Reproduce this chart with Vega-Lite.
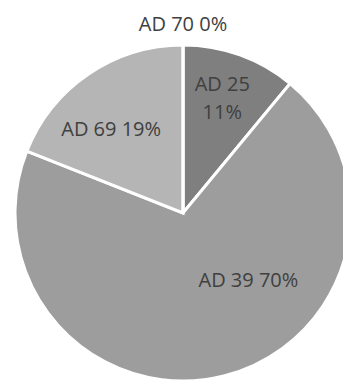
{
  "$schema": "https://vega.github.io/schema/vega-lite/v6.json",
  "width": 320,
  "height": 340,
  "autosize": "none",
  "padding": {"left": 23, "top": 43, "right": 0, "bottom": 0},
  "background": "white",
  "data": {
    "values": [
      {"name": "AD 25", "value": 11, "pct": "11%", "order": 1},
      {"name": "AD 39", "value": 70, "pct": "70%", "order": 2},
      {"name": "AD 69", "value": 19, "pct": "19%", "order": 3},
      {"name": "AD 70", "value": 0, "pct": "0%", "order": 4}
    ]
  },
  "transform": [
    {"stack": "value", "groupby": [], "sort": [{"field": "order"}], "as": ["v0", "v1"]},
    {"calculate": "(datum.v0 + datum.v1) / 2", "as": "mid"},
    {"calculate": "datum.name + ' ' + datum.pct", "as": "lbl"},
    {"calculate": "datum.name + '\\n' + datum.pct", "as": "lbl2"}
  ],
  "layer": [
    {
      "mark": {"type": "arc", "outerRadius": 168, "stroke": "white", "strokeWidth": 3},
      "encoding": {
        "theta": {"field": "v0", "type": "quantitative", "scale": {"domain": [0, 100]}},
        "theta2": {"field": "v1"},
        "color": {
          "field": "name",
          "type": "nominal",
          "scale": {"domain": ["AD 25", "AD 39", "AD 69", "AD 70"], "range": ["#7f7f7f", "#9d9d9d", "#b5b5b5", "#d0d0d0"]},
          "legend": null
        }
      }
    },
    {
      "transform": [{"filter": "datum.name == 'AD 25'"}],
      "mark": {"type": "text", "radius": 119, "dx": -1, "dy": -16, "lineBreak": "\n", "lineHeight": 28, "font": "Open Sans", "fontSize": 20, "color": "#404040", "baseline": "middle", "align": "center"},
      "encoding": {
        "theta": {"field": "mid", "type": "quantitative"},
        "text": {"field": "lbl2"}
      }
    },
    {
      "transform": [{"filter": "datum.name == 'AD 39'"}],
      "mark": {"type": "text", "radius": 70, "dx": 48, "font": "Open Sans", "fontSize": 20, "color": "#404040", "baseline": "middle", "align": "center"},
      "encoding": {
        "theta": {"field": "mid", "type": "quantitative"},
        "text": {"field": "lbl"}
      }
    },
    {
      "transform": [{"filter": "datum.name == 'AD 69'"}],
      "mark": {"type": "text", "radius": 110, "dx": -10, "dy": 8, "font": "Open Sans", "fontSize": 20, "color": "#404040", "baseline": "middle", "align": "center"},
      "encoding": {
        "theta": {"field": "mid", "type": "quantitative"},
        "text": {"field": "lbl"}
      }
    },
    {
      "transform": [{"filter": "datum.name == 'AD 70'"}],
      "mark": {"type": "text", "radius": 188, "font": "Open Sans", "fontSize": 20, "color": "#404040", "baseline": "middle", "align": "center"},
      "encoding": {
        "theta": {"field": "mid", "type": "quantitative"},
        "text": {"field": "lbl"}
      }
    }
  ],
  "config": {"view": {"stroke": null}}
}
